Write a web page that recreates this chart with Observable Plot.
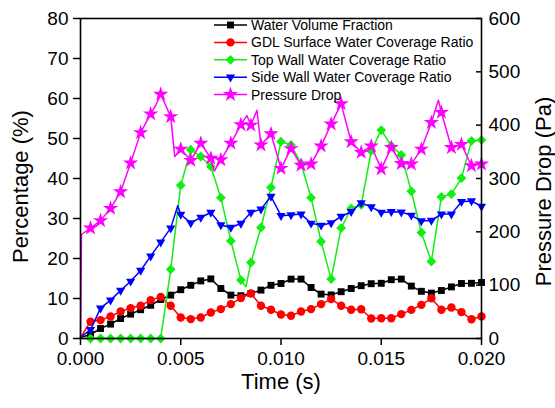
<!DOCTYPE html>
<html><head><meta charset="utf-8">
<script src="https://cdn.jsdelivr.net/npm/d3@7"></script>
<script src="https://cdn.jsdelivr.net/npm/@observablehq/plot@0.6"></script>
<style>
html,body{margin:0;padding:0;background:#fff;}
#chart{position:relative;width:555px;height:408px;}
#chart svg{display:block;}
#legend{position:absolute;left:0;top:0;}
</style></head><body><div id="chart"></div>
<script>
// ---- data ----
const time = [0, 0.0005, 0.001, 0.0015, 0.002, 0.0025, 0.003, 0.0035, 0.004, 0.0045,
  0.005, 0.0055, 0.006, 0.0065, 0.007, 0.0075, 0.008, 0.0085, 0.009, 0.0095,
  0.010, 0.0105, 0.011, 0.0115, 0.012, 0.0125, 0.013, 0.0135, 0.014, 0.0145,
  0.015, 0.0155, 0.016, 0.0165, 0.017, 0.0175, 0.018, 0.0185, 0.019, 0.0195, 0.020];
const waterVolume = [0.25, 1.0, 2.5, 3.6, 5.0, 6.1, 7.2, 8.3, 9.75, 10.85,
  12.2, 13.3, 14.4, 14.9, 12.5, 10.85, 10.7, 11.25, 12.1, 13.3,
  13.75, 14.85, 14.85, 12.75, 11.1, 10.9, 11.7, 12.5, 13.2, 13.7,
  13.8, 14.7, 14.85, 13.1, 11.8, 11.35, 12.0, 12.9, 13.75, 13.8, 14.0];
const gdlCoverage = [0.3, 4.2, 4.6, 5.5, 6.75, 7.6, 8.2, 9.6, 10.4, 8.2,
  5.25, 4.85, 5.25, 6.5, 7.35, 8.6, 10.1, 11.25, 8.2, 7.2,
  6.0, 5.7, 6.75, 7.35, 8.6, 9.85, 8.2, 7.2, 7.3, 5.0,
  5.05, 5.05, 6.1, 7.15, 8.4, 10.05, 7.2, 7.75, 6.6, 4.8, 5.5];
const topWall = [0, 0, 0, 0, 0, 0, 0, 0, 0, 17.3,
  38.3, 47.2, 45.5, 43.0, 35.2, 24.4, 14.6, 19.0, 27.75, 37.75,
  49.2, 48.4, 43.75, 35.2, 24.25, 14.85, 27.6, 32.5, 33.4, 46.9,
  52.1, 48.2, 45.9, 36.8, 26.5, 19.25, 35.4, 36.1, 40.1, 49.4, 49.6];
const topWallExtraTime = [0.00825];
const topWallExtra = [12.9];
const sideWall = [0.3, 2.2, 7.6, 9.6, 12.0, 14.3, 17.0, 20.6, 24.1, 27.6,
  31.0, 28.9, 30.25, 31.5, 28.4, 27.75, 28.75, 31.5, 32.35, 35.5,
  30.7, 30.9, 31.1, 28.8, 28.3, 28.9, 30.5, 31.7, 33.9, 32.9,
  31.5, 31.7, 31.6, 30.8, 29.4, 29.5, 31.1, 31.1, 34.2, 34.4, 33.0];
const sideWallExtraTime = [0.00485];
const sideWallExtra = [33.2];
const pressureTime = [0, 0.00005, 0.0005, 0.001, 0.0015, 0.002, 0.0025, 0.003, 0.0035, 0.00375,
  0.004, 0.0045, 0.0047, 0.005, 0.0055, 0.006, 0.0065, 0.00667, 0.007, 0.0075,
  0.008, 0.0083, 0.0085, 0.0088, 0.009, 0.0095, 0.010, 0.0105, 0.011, 0.0115,
  0.012, 0.0125, 0.013, 0.0135, 0.014, 0.0145, 0.015, 0.0155, 0.016, 0.0165,
  0.017, 0.0175, 0.01785, 0.018, 0.0185, 0.019, 0.0195, 0.020];
const pressureDrop = [0, 195, 207, 221, 244, 275, 329, 386, 421, 437,
  458, 416, 341, 355, 334, 366, 338, 314, 335, 366,
  401, 418, 400, 428, 363, 384, 319, 356, 325, 327,
  361, 402, 440, 369, 349, 361, 318, 358, 328, 327,
  355, 405, 447, 424, 358, 364, 324, 327];

const percentTicks = [0, 10, 20, 30, 40, 50, 60, 70, 80];
const timeTicks = [0, 0.005, 0.010, 0.015, 0.020];
const pressureTicks = [0, 100, 200, 300, 400, 500, 600];
const seriesNames = ["Water Volume Fraction", "GDL Surface Water Coverage Ratio",
  "Top Wall Water Coverage Ratio", "Side Wall Water Coverage Ratio", "Pressure Drop"];

// ---- setup ----
const W = 555, H = 408, mL = 80, mR = 74, mT = 18, mB = 70;
const pScale = 600 / 80; // Pa per percent unit
const FONT = "'Liberation Sans', Arial, Helvetica, sans-serif";

function build(ts, vs, extraT = [], extraV = [], conv = v => v) {
  const pts = ts.map((t, i) => ({t, v: conv(vs[i])}));
  extraT.forEach((t, i) => pts.push({t, v: conv(extraV[i])}));
  pts.sort((a, b) => a.t - b.t);
  pts.forEach(d => { d.m = d.t > 0 && Math.abs(d.t * 2000 - Math.round(d.t * 2000)) < 1e-6; });
  return pts;
}

const series = [
  {name: seriesNames[0], color: "#000000", symbol: "square", r: 3.9, rotate: 0, data: build(time, waterVolume)},
  {name: seriesNames[1], color: "#ff0000", symbol: "circle", r: 4.2, rotate: 0, data: build(time, gdlCoverage)},
  {name: seriesNames[2], color: "#11ee11", symbol: "diamond2", r: 4.4, rotate: 0, data: build(time, topWall, topWallExtraTime, topWallExtra)},
  {name: seriesNames[3], color: "#0000ff", symbol: "triangle2", r: 4.4, rotate: 180, data: build(time, sideWall, sideWallExtraTime, sideWallExtra)},
  {name: seriesNames[4], color: "#ff00ff", symbol: "star", r: 4.8, rotate: 0, data: build(pressureTime, pressureDrop, [], [], p => p / pScale)}
];

const marks = [
  Plot.axisY(percentTicks, {anchor: "left", tickSize: 7, tickPadding: 5, fontSize: 19, label: null, strokeWidth: 1.5}),
  Plot.axisX(timeTicks, {anchor: "bottom", tickSize: 7, tickPadding: 6, fontSize: 19, label: null, strokeWidth: 1.5, tickFormat: d3.format(".3f")}),
  Plot.axisY(pressureTicks.map(p => p / pScale), {anchor: "right", tickSize: 0, tickPadding: 7, fontSize: 19, label: null, tickFormat: d => String(Math.round(d * pScale))}),
  Plot.tickY(pressureTicks.map(p => p / pScale), {y: d => d, insetLeft: (W - mL - mR) - 5, stroke: "#000", strokeWidth: 1.5})
];
for (const s of series) {
  marks.push(Plot.line(s.data, {x: "t", y: "v", stroke: s.color, strokeWidth: 1.5}));
  marks.push(Plot.dot(s.data.filter(d => d.m), {x: "t", y: "v", symbol: s.symbol, r: s.r, fill: s.color, stroke: "none", rotate: s.rotate}));
}
marks.push(Plot.frame({stroke: "#000", strokeWidth: 1.6}));
marks.push(Plot.text(["Percentage (%)"], {text: d => d, frameAnchor: "left", textAnchor: "middle", dx: -60, dy: 8, rotate: -90, fontSize: 22}));
marks.push(Plot.text(["Time (s)"], {text: d => d, frameAnchor: "bottom", textAnchor: "middle", dy: 50, fontSize: 22}));
marks.push(Plot.text(["Pressure Drop (Pa)"], {text: d => d, frameAnchor: "right", textAnchor: "middle", dx: 62, dy: 13, rotate: -90, fontSize: 22}));

const chart = Plot.plot({
  width: W, height: H, marginLeft: mL, marginRight: mR, marginTop: mT, marginBottom: mB,
  x: {domain: [0, 0.02]},
  y: {domain: [0, 80]},
  style: {fontFamily: FONT, background: "#fff", color: "#000", overflow: "visible"},
  marks
});
const container = document.getElementById("chart");
container.appendChild(chart);

// ---- legend (inside the plot, top right) ----
const legend = d3.select(container).append("svg")
  .attr("id", "legend").attr("width", W).attr("height", 130)
  .style("font-family", FONT);
const rowY0 = 25, rowStep = 17.4, lineX0 = 214, lineX1 = 247, textX = 251;
const symMap = {square: d3.symbolSquare, circle: d3.symbolCircle, diamond2: d3.symbolDiamond2, triangle2: d3.symbolTriangle2, star: d3.symbolStar};
series.forEach((s, i) => {
  const y = rowY0 + i * rowStep;
  const g = legend.append("g");
  g.append("line").attr("x1", lineX0).attr("x2", lineX1).attr("y1", y).attr("y2", y)
    .attr("stroke", s.color).attr("stroke-width", 1.5);
  g.append("path").attr("d", d3.symbol(symMap[s.symbol], Math.PI * s.r * s.r)())
    .attr("transform", `translate(${(lineX0 + lineX1) / 2},${y}) rotate(${s.rotate})`)
    .attr("fill", s.color);
  g.append("text").attr("x", textX).attr("y", y).attr("dy", "0.35em")
    .attr("font-size", 14).attr("fill", "#000").text(s.name);
});
</script></body></html>
